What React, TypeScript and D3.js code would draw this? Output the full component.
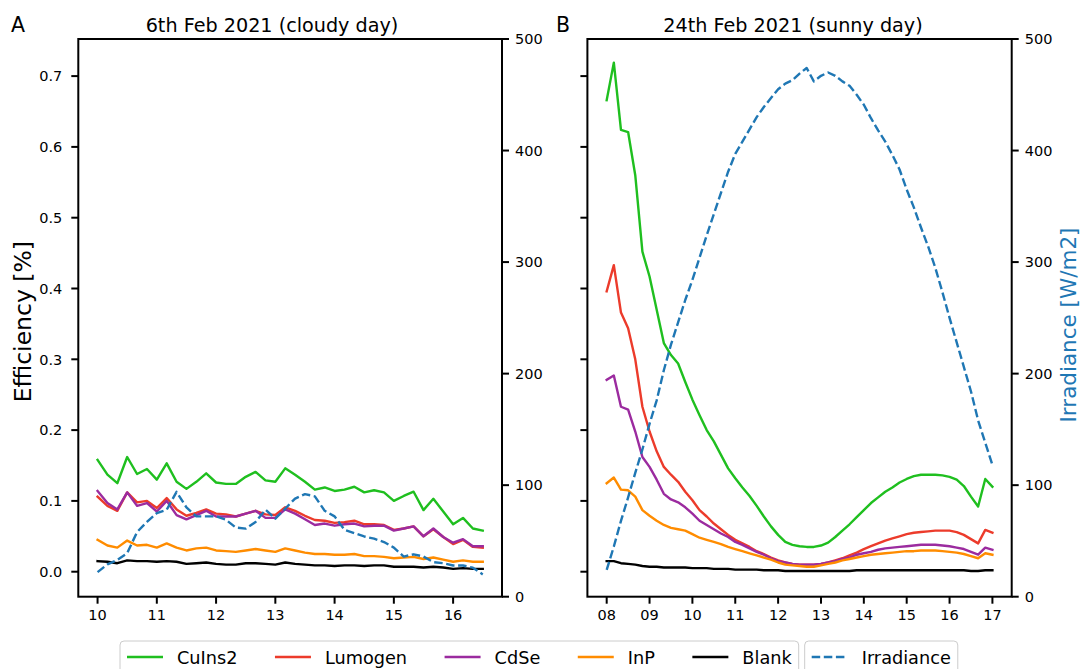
import React from 'react';
import * as d3 from 'd3';

// ---------- data ----------
const stepHours = 1 / 6; // 10-minute samples
const cloudyStartHour = 10;
const sunnyStartHour = 8;

const seriesNames = ['CuIns2', 'Lumogen', 'CdSe', 'InP', 'Blank'];
const seriesColors = ['#1fbf1f', '#ec3b2b', '#9b2b9f', '#ff8c00', '#000000'];
const irrName = 'Irradiance';
const irrColor = '#1f77b4';

// 6th Feb 2021 (cloudy) 10:00 - 16:30
const cuins2Cloudy = [0.158, 0.137, 0.125, 0.162, 0.138, 0.145, 0.130, 0.153, 0.127, 0.117, 0.127, 0.139, 0.126, 0.124, 0.124, 0.134, 0.141, 0.129, 0.127, 0.146, 0.137, 0.127, 0.116, 0.119, 0.114, 0.116, 0.120, 0.112, 0.115, 0.112, 0.100, 0.107, 0.113, 0.087, 0.103, 0.085, 0.067, 0.076, 0.061, 0.058];
const lumogenCloudy = [0.106, 0.093, 0.086, 0.112, 0.098, 0.100, 0.090, 0.104, 0.088, 0.079, 0.083, 0.088, 0.082, 0.081, 0.078, 0.082, 0.086, 0.081, 0.080, 0.091, 0.086, 0.079, 0.073, 0.072, 0.069, 0.070, 0.072, 0.067, 0.067, 0.066, 0.059, 0.061, 0.064, 0.050, 0.060, 0.049, 0.039, 0.045, 0.035, 0.034];
const cdseCloudy = [0.114, 0.097, 0.088, 0.112, 0.093, 0.097, 0.085, 0.100, 0.080, 0.074, 0.080, 0.086, 0.078, 0.078, 0.078, 0.082, 0.086, 0.076, 0.076, 0.088, 0.082, 0.074, 0.066, 0.068, 0.065, 0.067, 0.068, 0.064, 0.065, 0.065, 0.058, 0.061, 0.064, 0.050, 0.061, 0.049, 0.041, 0.046, 0.036, 0.036];
const inpCloudy = [0.045, 0.037, 0.034, 0.044, 0.037, 0.038, 0.034, 0.040, 0.034, 0.030, 0.033, 0.034, 0.030, 0.029, 0.028, 0.030, 0.032, 0.030, 0.028, 0.033, 0.030, 0.027, 0.025, 0.025, 0.024, 0.024, 0.025, 0.022, 0.022, 0.021, 0.019, 0.020, 0.021, 0.018, 0.020, 0.017, 0.014, 0.016, 0.014, 0.014];
const blankCloudy = [0.015, 0.014, 0.012, 0.016, 0.015, 0.015, 0.014, 0.015, 0.014, 0.011, 0.012, 0.013, 0.011, 0.010, 0.010, 0.012, 0.012, 0.011, 0.010, 0.013, 0.011, 0.010, 0.009, 0.009, 0.008, 0.009, 0.009, 0.008, 0.009, 0.009, 0.007, 0.007, 0.007, 0.006, 0.007, 0.006, 0.004, 0.005, 0.004, 0.004];
const irrCloudy = [22, 29, 33, 39, 58, 67, 75, 78, 94, 80, 72, 72, 72, 69, 62, 61, 67, 78, 70, 79, 88, 92, 90, 77, 72, 60, 57, 54, 52, 49, 44, 36, 38, 36, 31, 30, 28, 28, 26, 20];

// 24th Feb 2021 (sunny) 08:00 - 17:00
const cuins2Sunny = [0.666, 0.719, 0.624, 0.621, 0.560, 0.452, 0.417, 0.370, 0.323, 0.306, 0.294, 0.268, 0.243, 0.221, 0.200, 0.184, 0.165, 0.146, 0.132, 0.119, 0.107, 0.093, 0.078, 0.064, 0.052, 0.042, 0.038, 0.036, 0.035, 0.035, 0.037, 0.041, 0.049, 0.058, 0.067, 0.077, 0.087, 0.097, 0.105, 0.113, 0.119, 0.126, 0.131, 0.135, 0.137, 0.137, 0.137, 0.136, 0.134, 0.130, 0.121, 0.106, 0.092, 0.131, 0.120];
const lumogenSunny = [0.396, 0.433, 0.366, 0.344, 0.300, 0.233, 0.198, 0.170, 0.148, 0.137, 0.127, 0.113, 0.101, 0.087, 0.078, 0.068, 0.060, 0.052, 0.045, 0.040, 0.035, 0.029, 0.025, 0.020, 0.016, 0.013, 0.011, 0.010, 0.010, 0.010, 0.011, 0.013, 0.016, 0.019, 0.023, 0.027, 0.032, 0.036, 0.040, 0.044, 0.047, 0.050, 0.053, 0.055, 0.056, 0.057, 0.058, 0.058, 0.058, 0.056, 0.052, 0.046, 0.040, 0.059, 0.055];
const cdseSunny = [0.271, 0.277, 0.233, 0.229, 0.198, 0.162, 0.148, 0.130, 0.110, 0.102, 0.098, 0.091, 0.082, 0.072, 0.066, 0.060, 0.054, 0.049, 0.042, 0.038, 0.033, 0.028, 0.024, 0.019, 0.015, 0.013, 0.011, 0.010, 0.010, 0.010, 0.011, 0.013, 0.015, 0.018, 0.020, 0.024, 0.026, 0.028, 0.031, 0.033, 0.034, 0.035, 0.036, 0.037, 0.038, 0.038, 0.038, 0.037, 0.036, 0.034, 0.032, 0.028, 0.024, 0.034, 0.031];
const inpSunny = [0.125, 0.133, 0.116, 0.115, 0.106, 0.087, 0.079, 0.072, 0.066, 0.062, 0.060, 0.058, 0.053, 0.048, 0.045, 0.042, 0.039, 0.035, 0.032, 0.029, 0.026, 0.023, 0.020, 0.017, 0.013, 0.010, 0.009, 0.008, 0.007, 0.007, 0.009, 0.011, 0.013, 0.016, 0.018, 0.020, 0.022, 0.024, 0.025, 0.026, 0.027, 0.028, 0.029, 0.029, 0.030, 0.030, 0.030, 0.029, 0.028, 0.027, 0.025, 0.022, 0.019, 0.026, 0.024];
const blankSunny = [0.015, 0.015, 0.012, 0.011, 0.010, 0.008, 0.007, 0.007, 0.006, 0.006, 0.006, 0.006, 0.005, 0.005, 0.005, 0.004, 0.004, 0.004, 0.003, 0.003, 0.003, 0.003, 0.002, 0.002, 0.002, 0.001, 0.001, 0.001, 0.001, 0.001, 0.001, 0.001, 0.001, 0.001, 0.001, 0.002, 0.002, 0.002, 0.002, 0.002, 0.002, 0.002, 0.002, 0.002, 0.002, 0.002, 0.002, 0.002, 0.002, 0.002, 0.002, 0.001, 0.001, 0.002, 0.002];
const irrSunny = [24, 45, 68, 89, 111, 132, 155, 176, 203, 226, 246, 266, 284, 304, 324, 343, 362, 381, 397, 408, 419, 430, 439, 447, 455, 460, 463, 469, 474, 462, 467, 470, 467, 462, 458, 450, 441, 429, 418, 408, 396, 383, 365, 349, 331, 314, 295, 273, 250, 228, 206, 184, 158, 138, 118];

const effTicks = [0, 0.1, 0.2, 0.3, 0.4, 0.5, 0.6, 0.7];
const irrTicks = [0, 100, 200, 300, 400, 500];
const cloudyHourTicks = [10, 11, 12, 13, 14, 15, 16];
const sunnyHourTicks = [8, 9, 10, 11, 12, 13, 14, 15, 16, 17];

// ---------- layout ----------
const W = 1080;
const H = 669;
const TOP = 39;
const BOTTOM = 596.7;
const FONT = '"DejaVu Sans", sans-serif';
const TICK_FS = 14.5;
const TICK_LEN = 7;
const LINE_W = 2.4;
const SPINE_W = 2;

const panels = [
  {
    letter: 'A', letterX: 11, title: '6th Feb 2021 (cloudy day)', titleX: 272,
    left: 78.3, right: 502, start: cloudyStartHour, hourTicks: cloudyHourTicks,
    fmt: (h: number) => String(h),
    series: [cuins2Cloudy, lumogenCloudy, cdseCloudy, inpCloudy, blankCloudy], irr: irrCloudy,
    effLabels: true, irrTitle: false,
  },
  {
    letter: 'B', letterX: 556, title: '24th Feb 2021 (sunny day)', titleX: 793,
    left: 587.4, right: 1011.7, start: sunnyStartHour, hourTicks: sunnyHourTicks,
    fmt: (h: number) => d3.format('02d')(h),
    series: [cuins2Sunny, lumogenSunny, cdseSunny, inpSunny, blankSunny], irr: irrSunny,
    effLabels: false, irrTitle: true,
  },
];

const yEff = d3.scaleLinear().domain([-0.0353, 0.7524]).range([BOTTOM, TOP]);
const yIrr = d3.scaleLinear().domain([0, 500]).range([BOTTOM, TOP]);

let measureCtx: CanvasRenderingContext2D | null = null;
function textWidth(s: string, size: number) {
  if (!measureCtx) measureCtx = document.createElement('canvas').getContext('2d');
  if (!measureCtx) return s.length * size * 0.6;
  measureCtx.font = `${size}px "DejaVu Sans"`;
  return measureCtx.measureText(s).width;
}

function Panel({ p }: { p: (typeof panels)[number] }) {
  const n = p.irr.length;
  const times = d3.range(n).map((i) => p.start + i * stepHours);
  const t0 = times[0];
  const t1 = times[n - 1];
  const pad = (t1 - t0) * 0.05;
  const x = d3.scaleLinear().domain([t0 - pad, t1 + pad]).range([p.left, p.right]);
  const effLine = d3.line<number>().x((_, i) => x(times[i])).y((d) => yEff(d));
  const irrLine = d3.line<number>().x((_, i) => x(times[i])).y((d) => yIrr(d));

  return (
    <g>
      {p.series.map((s, k) => (
        <path key={k} d={effLine(s) || ''} fill="none" stroke={seriesColors[k]} strokeWidth={LINE_W} strokeLinejoin="round" strokeLinecap="square" />
      ))}
      <path d={irrLine(p.irr) || ''} fill="none" stroke={irrColor} strokeWidth={LINE_W} strokeDasharray="8.5 3.6" strokeLinejoin="round" />
      {/* frame */}
      <rect x={p.left} y={TOP} width={p.right - p.left} height={BOTTOM - TOP} fill="none" stroke="#000" strokeWidth={SPINE_W} />
      {/* x ticks */}
      {p.hourTicks.map((h) => (
        <g key={h} transform={`translate(${x(h)},${BOTTOM})`}>
          <line y1={0} y2={TICK_LEN} stroke="#000" strokeWidth={SPINE_W} />
          <text y={TICK_LEN + 16.5} textAnchor="middle" fontSize={TICK_FS} fontFamily={FONT} fill="#000">{p.fmt(h)}</text>
        </g>
      ))}
      {/* left eff ticks */}
      {effTicks.map((v) => (
        <g key={v} transform={`translate(${p.left},${yEff(v)})`}>
          <line x1={-TICK_LEN} x2={0} stroke="#000" strokeWidth={SPINE_W} />
          {p.effLabels && (
            <text x={-16} dy="0.36em" textAnchor="end" fontSize={TICK_FS} fontFamily={FONT} fill="#000">{d3.format('.1f')(v)}</text>
          )}
        </g>
      ))}
      {/* right irr ticks */}
      {irrTicks.map((v) => (
        <g key={v} transform={`translate(${p.right},${yIrr(v)})`}>
          <line x1={0} x2={TICK_LEN} stroke="#000" strokeWidth={SPINE_W} />
          <text x={TICK_LEN + 6} dy="0.36em" textAnchor="start" fontSize={TICK_FS} fontFamily={FONT} fill="#000">{v}</text>
        </g>
      ))}
      <text x={p.titleX} y={31.5} textAnchor="middle" fontSize={19.2} fontFamily={FONT} fill="#000">{p.title}</text>
      <text x={p.letterX} y={31.5} textAnchor="start" fontSize={20.5} fontFamily={FONT} fill="#000">{p.letter}</text>
      {p.irrTitle && (
        <text transform={`translate(1076,325) rotate(-90)`} textAnchor="middle" fontSize={21.5} fontFamily={FONT} fill={irrColor}>Irradiance [W/m2]</text>
      )}
    </g>
  );
}

function Legend() {
  const fs = 17.7;
  const top = 641;
  const handle = 36;
  const textGap = 50;
  const colGap = 37.5;
  const boxPad = 7;
  const box1Left = 120;
  const items: { x: number; name: string; color: string }[] = [];
  let cx = box1Left + boxPad;
  seriesNames.forEach((name, k) => {
    items.push({ x: cx, name, color: seriesColors[k] });
    cx = cx + textGap + textWidth(name, fs) + colGap;
  });
  const box1Right = cx - colGap + boxPad;
  const box2Left = box1Right + 6;
  const irrX = box2Left + boxPad;
  const box2Right = irrX + textGap + textWidth(irrName, fs) + boxPad;
  const hy = top + 16;
  return (
    <g>
      <rect x={box1Left} y={top} width={box1Right - box1Left} height={40} rx={4} fill="#fff" fillOpacity={0.8} stroke="#cccccc" strokeWidth={1} />
      <rect x={box2Left} y={top} width={box2Right - box2Left} height={40} rx={4} fill="#fff" fillOpacity={0.8} stroke="#cccccc" strokeWidth={1} />
      {items.map((it) => (
        <g key={it.name}>
          <line x1={it.x} x2={it.x + handle} y1={hy} y2={hy} stroke={it.color} strokeWidth={LINE_W} />
          <text x={it.x + textGap} y={hy + 6.5} fontSize={fs} fontFamily={FONT} fill="#000">{it.name}</text>
        </g>
      ))}
      <line x1={irrX} x2={irrX + handle} y1={hy} y2={hy} stroke={irrColor} strokeWidth={LINE_W} strokeDasharray="8.5 3.6" />
      <text x={irrX + textGap} y={hy + 6.5} fontSize={fs} fontFamily={FONT} fill="#000">{irrName}</text>
    </g>
  );
}

export default function App() {
  return (
    <svg width={W} height={H} viewBox={`0 0 ${W} ${H}`} style={{ position: 'absolute', left: 0, top: 0, background: '#fff' }}>
      <rect width={W} height={H} fill="#fff" />
      {panels.map((p) => (
        <Panel key={p.letter} p={p} />
      ))}
      <text transform="translate(30.5,321.7) rotate(-90)" textAnchor="middle" fontSize={23.5} fontFamily={FONT} fill="#000">Efficiency [%]</text>
      <Legend />
    </svg>
  );
}
